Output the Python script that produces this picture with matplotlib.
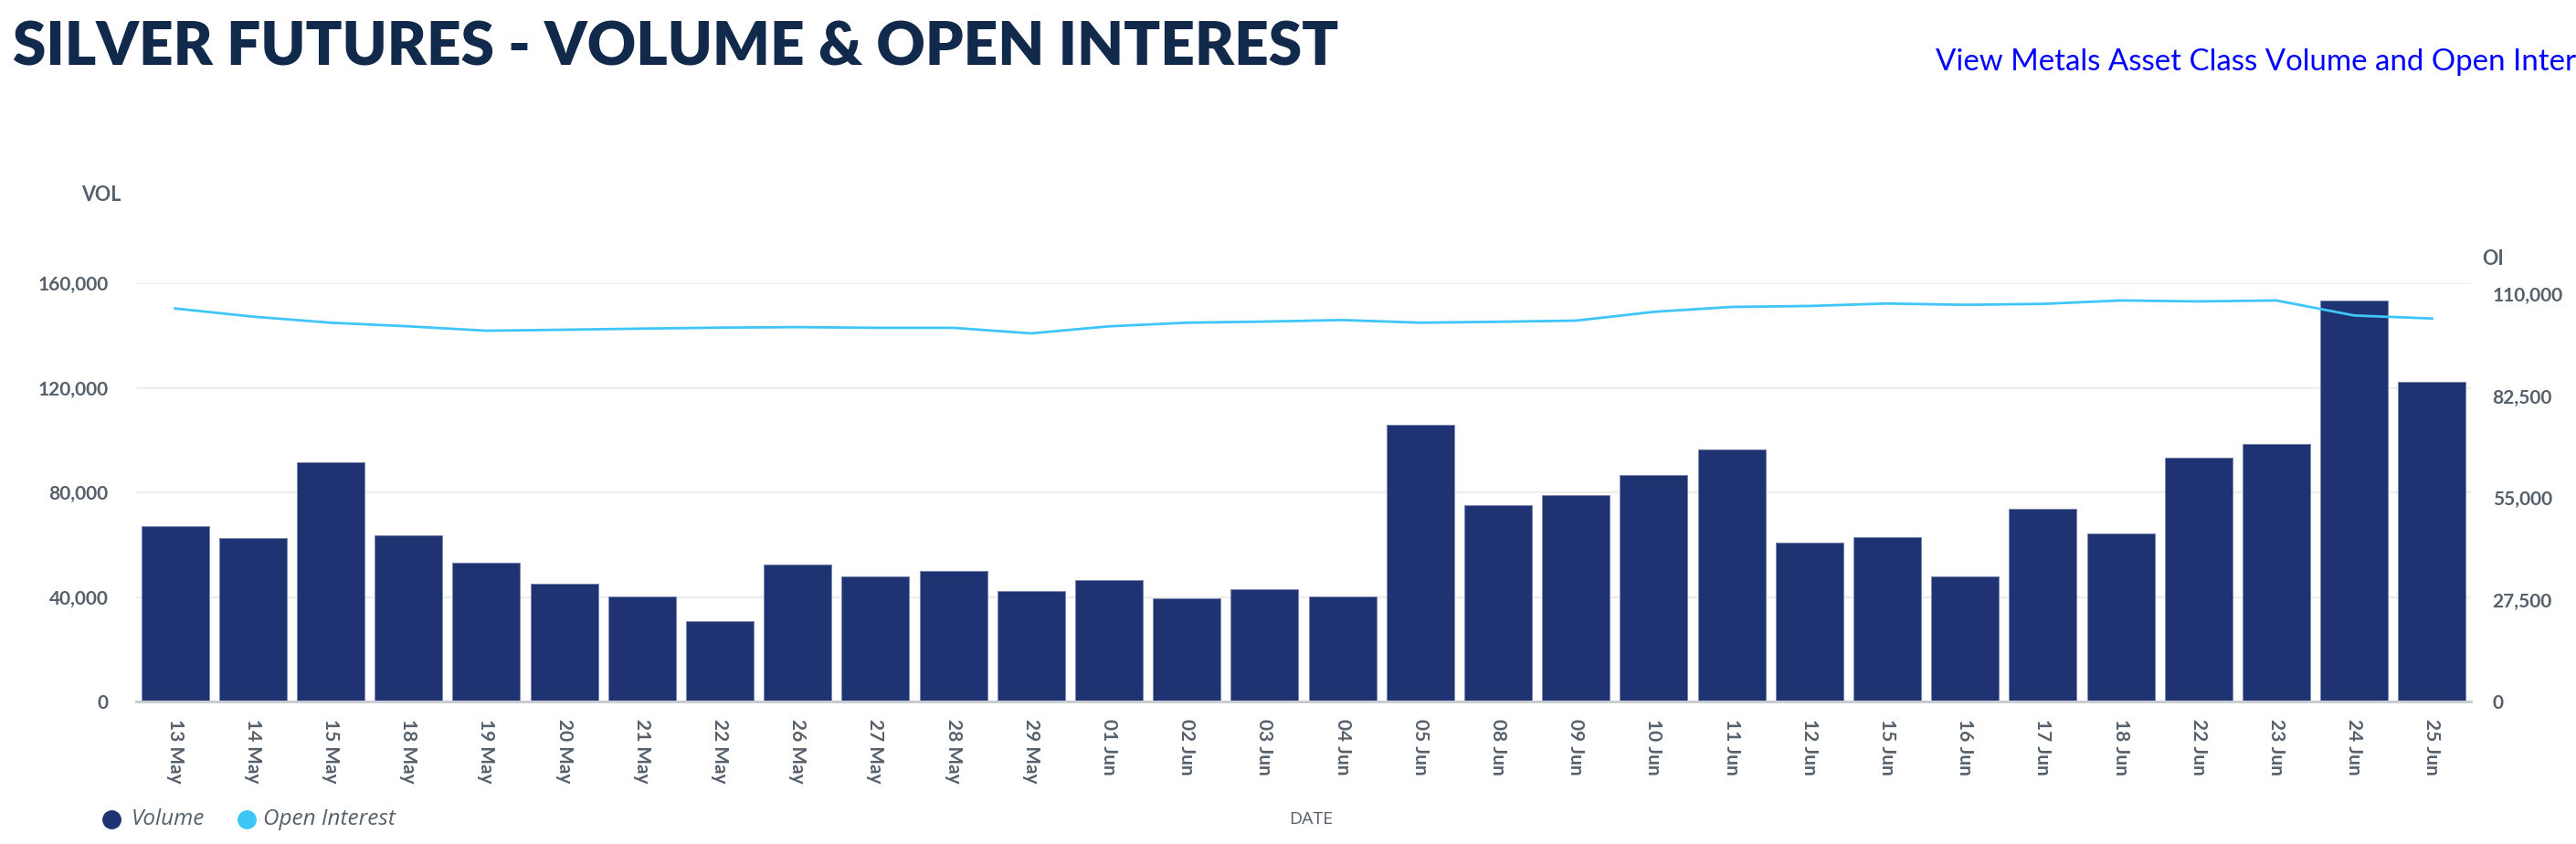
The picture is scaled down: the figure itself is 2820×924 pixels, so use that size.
import matplotlib
matplotlib.use("Agg")
import matplotlib.pyplot as plt
import numpy as np
from matplotlib.ticker import FuncFormatter

dates = ["13 May", "14 May", "15 May", "18 May", "19 May", "20 May", "21 May",
         "22 May", "26 May", "27 May", "28 May", "29 May", "01 Jun", "02 Jun",
         "03 Jun", "04 Jun", "05 Jun", "08 Jun", "09 Jun", "10 Jun", "11 Jun",
         "12 Jun", "15 Jun", "16 Jun", "17 Jun", "18 Jun", "22 Jun", "23 Jun",
         "24 Jun", "25 Jun"]

volume = [67000, 62500, 91500, 63700, 53100, 45100, 40300, 30800, 52300,
          48000, 50000, 42100, 46500, 39400, 42900, 40300, 105800, 75000,
          79000, 86700, 96300, 60800, 62900, 47900, 73700, 64400, 93300,
          98500, 153400, 122400]

open_interest = [106170, 103960, 102320, 101340, 100160, 100420, 100720, 100980,
                 101130, 100930, 100930, 99440, 101340, 102320, 102620, 103040,
                 102320, 102570, 102880, 105250, 106580, 106840, 107500,
                 107150, 107400, 108330, 108070, 108330, 104270, 103450]

vol_ticks = [0, 40000, 80000, 120000, 160000]
oi_ticks = [0, 27500, 55000, 82500, 110000]

navy = "#1F3372"
cyan = "#3FC6F8"
grey_txt = "#56606B"

fig = plt.figure(figsize=(28.2, 9.24), dpi=100)
ax = fig.add_axes([149 / 2820, 156 / 924, (2705 - 149) / 2820, (768 - 310) / 924])

x = np.arange(len(volume))
ax.bar(x, volume, width=0.87, color=navy, edgecolor="#7D89AE", linewidth=0.7, zorder=2)
ax.set_xlim(-0.5, len(volume) - 0.5)
ax.set_ylim(0, vol_ticks[-1])
ax.set_yticks(vol_ticks)
ax.yaxis.set_major_formatter(FuncFormatter(lambda v, p: f"{int(v):,}"))
ax.grid(axis="y", color="#EDEDED", linewidth=1.6, zorder=0)
ax.set_axisbelow(True)
for s in ["top", "right", "left"]:
    ax.spines[s].set_visible(False)
ax.spines["bottom"].set_color("#C9CCD1")
ax.spines["bottom"].set_linewidth(2.2)
ax.set_xticks(x)
ax.set_xticklabels(dates, rotation=-90, ha="center", va="top",
                   fontsize=15, color=grey_txt, fontfamily="Lato", fontweight="bold")
ax.tick_params(axis="x", length=0, pad=14)
ax.tick_params(axis="y", length=0, pad=22, labelsize=15, labelcolor=grey_txt)
for lab in ax.get_yticklabels():
    lab.set_fontfamily("Lato")
    lab.set_fontweight("bold")

# right axis: its own scale, slightly taller than the left one
ax2 = ax.twinx()
ax2.plot(x, open_interest, color=cyan, linewidth=2, zorder=3)
ax2.set_ylim(0, 113000)
ax2.set_yticks(oi_ticks)
ax2.yaxis.set_major_formatter(FuncFormatter(lambda v, p: f"{int(v):,}"))
for s in ["top", "right", "left", "bottom"]:
    ax2.spines[s].set_visible(False)
ax2.tick_params(axis="y", length=0, pad=17, labelsize=15, labelcolor=grey_txt)
for lab in ax2.get_yticklabels():
    lab.set_fontfamily("Lato")
    lab.set_fontweight("bold")

# title and link
fig.text(14 / 2820, 1 - 72 / 924, "SILVER FUTURES - VOLUME & OPEN INTEREST",
         fontsize=47.3, fontweight="heavy", fontfamily="Lato", color="#11294A",
         ha="left", va="baseline")
fig.text(1.0, 1 - 68 / 924, "View Metals Asset Class Volume and Open Inter",
         fontsize=23.8, fontfamily="Lato", color="#0000FF", ha="right", va="center")

# axis titles
fig.text(133 / 2820, 1 - 214 / 924, "VOL", fontsize=15.5, fontweight="bold",
         fontfamily="Lato", color=grey_txt, ha="right", va="center")
fig.text(2717 / 2820, 1 - 284 / 924, "OI", fontsize=15.5, fontweight="bold",
         fontfamily="Lato", color=grey_txt, ha="left", va="center")
fig.text(1435 / 2820, 1 - 897 / 924, "DATE", fontsize=14, fontfamily="Open Sans",
         color=grey_txt, ha="center", va="center")

# legend
fig.lines.append(plt.Line2D([122 / 2820], [1 - 897 / 924], marker="o", markersize=14,
                            color=navy, transform=fig.transFigure, figure=fig))
fig.text(144 / 2820, 1 - 897 / 924, "Volume", fontsize=17.5, style="italic",
         fontfamily="Open Sans", color=grey_txt, ha="left", va="center")
fig.lines.append(plt.Line2D([270 / 2820], [1 - 897 / 924], marker="o", markersize=14,
                            color=cyan, transform=fig.transFigure, figure=fig))
fig.text(288 / 2820, 1 - 897 / 924, "Open Interest", fontsize=17.5, style="italic",
         fontfamily="Open Sans", color=grey_txt, ha="left", va="center")

fig.savefig("out.png", dpi=100)
